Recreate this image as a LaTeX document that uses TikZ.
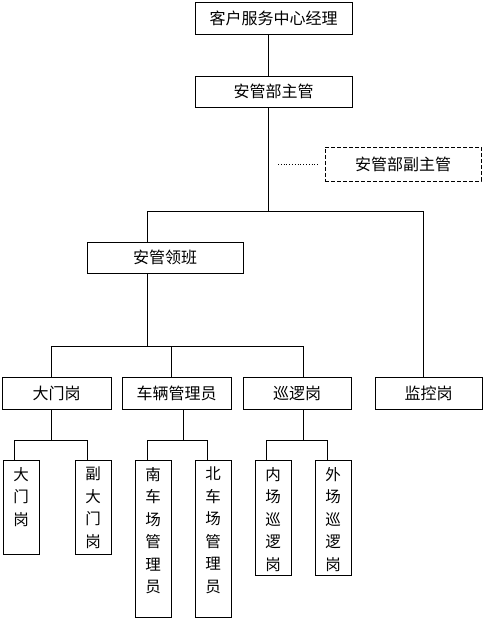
\documentclass[tikz,border=0pt]{standalone}
\usepackage{fontspec}
\setmainfont{Noto Sans CJK SC}
\usetikzlibrary{positioning}
\tikzset{
  hbox/.style={draw, line width=0.8pt, minimum height=32pt, inner sep=0pt,
               font=\fontsize{16}{19}\selectfont},
  vbox/.style={draw, line width=0.8pt, minimum width=36pt, inner sep=0pt, anchor=north},
  vlab/.style={anchor=north, yshift=-7pt, align=center, inner sep=0pt,
               font=\fontsize{15.5}{22.5}\selectfont},
  link/.style={line width=0.8pt},
}
\begin{document}
\begin{tikzpicture}[x=1pt, y=-1pt]
  \useasboundingbox (0,0) rectangle (486,620);
  % top levels
  \node[hbox, minimum width=157pt] (mgr) at (273.5,18) {客户服务中心经理};
  \node[hbox, minimum width=157pt, minimum height=31pt] (head) at (273.5,91.5) {安管部主管};
  \node[hbox, minimum width=156pt, minimum height=34pt, dash pattern=on 4pt off 2pt] (dep) at (403,164) {安管部副主管};
  \node[hbox, minimum width=156pt, minimum height=31pt] (lead) at (165,257.5) {安管领班};
  % posts
  \node[hbox, minimum width=109pt] (gate) at (56.5,393) {大门岗};
  \node[hbox, minimum width=109pt] (car) at (176.5,393) {车辆管理员};
  \node[hbox, minimum width=108pt] (patrol) at (297,393) {巡逻岗};
  \node[hbox, minimum width=107pt] (watch) at (428.5,393) {监控岗};
  % sub posts
  \node[vbox, minimum height=94pt, label={[vlab]north:大\\门\\岗}] (gatea) at (21,460) {};
  \node[vbox, minimum height=94pt, label={[vlab]north:副\\大\\门\\岗}] (gateb) at (93,460) {};
  \node[vbox, minimum height=157pt, label={[vlab]north:南\\车\\场\\管\\理\\员}] (cara) at (153,460) {};
  \node[vbox, minimum height=157pt, label={[vlab]north:北\\车\\场\\管\\理\\员}] (carb) at (213,460) {};
  \node[vbox, minimum height=115pt, label={[vlab]north:内\\场\\巡\\逻\\岗}] (patrola) at (273,460) {};
  \node[vbox, minimum height=115pt, label={[vlab]north:外\\场\\巡\\逻\\岗}] (patrolb) at (333,460) {};
  % junctions
  \coordinate (t0) at (268,211);
  \coordinate (t1) at (147,211);
  \coordinate (t2) at (423,211);
  \coordinate (u0) at (147,346);
  \coordinate (u1) at (51,346);
  \coordinate (u2) at (303,346);
  \coordinate (u3) at (171,346);
  \coordinate (g0) at (51,440);   \coordinate (g1) at (14,440);  \coordinate (g2) at (87,440);
  \coordinate (c0) at (183,440);  \coordinate (c1) at (147,440); \coordinate (c2) at (207,440);
  \coordinate (p0) at (303,440);  \coordinate (p1) at (266,440); \coordinate (p2) at (327,440);
  % connectors
  \draw[link] (mgr.south -| t0) -- (head.north -| t0);
  \draw[link] (head.south -| t0) -- (t0);
  \draw[link, dotted, shorten <=10pt, shorten >=6pt] (dep.west -| t0) -- (dep.west);
  \draw[link] (lead.north -| t1) -- (t1) -- (t2) -- (watch.north -| t2);
  \draw[link] (lead.south -| u0) -- (u0);
  \draw[link] (gate.north -| u1) -- (u1) -- (u2) -- (patrol.north -| u2);
  \draw[link] (u3) -- (car.north -| u3);
  \draw[link] (gate.south -| g0) -- (g0);
  \draw[link] (gatea.north -| g1) -- (g1) -- (g2) -- (gateb.north -| g2);
  \draw[link] (car.south -| c0) -- (c0);
  \draw[link] (cara.north -| c1) -- (c1) -- (c2) -- (carb.north -| c2);
  \draw[link] (patrol.south -| p0) -- (p0);
  \draw[link] (patrola.north -| p1) -- (p1) -- (p2) -- (patrolb.north -| p2);
\end{tikzpicture}
\end{document}
